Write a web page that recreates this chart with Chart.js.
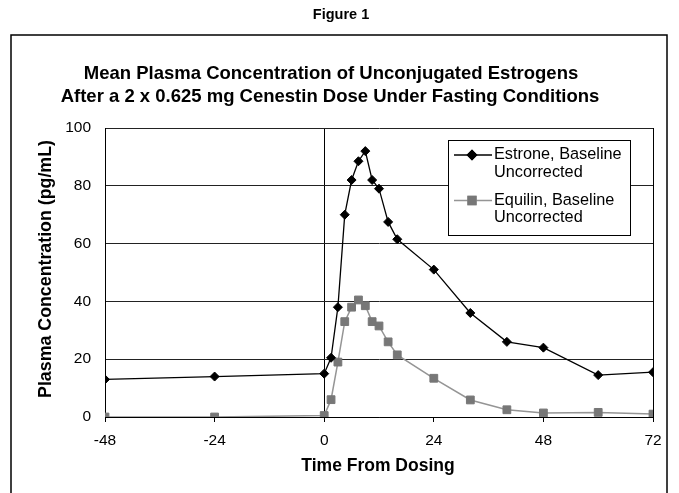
<!DOCTYPE html>
<html>
<head>
<meta charset="utf-8">
<script src="https://cdn.jsdelivr.net/npm/chart.js@4.4.1/dist/chart.umd.min.js"></script>
<style>
html,body{margin:0;padding:0;background:#fff;}
#wrap{width:679px;height:493px;position:relative;}
</style>
</head>
<body>
<div id="wrap"><canvas id="c"></canvas></div>
<script>
// ---- data ----
const timeHours = [-48, -24, 0, 1.5, 3, 4.5, 6, 7.5, 9, 10.5, 12, 14, 16, 24, 32, 40, 48, 60, 72];
const estrone   = [13, 14, 15, 20.5, 38, 70, 82, 88.5, 92, 82, 79, 67.5, 61.5, 51, 36, 26, 24, 14.5, 15.5];
const equilin   = [0, 0, 0.5, 6, 19, 33, 38, 40.5, 38.5, 33, 31.5, 26, 21.5, 13.4, 5.9, 2.5, 1.4, 1.6, 1.0];
const xTicks = [-48, -24, 0, 24, 48, 72];
const yTicks = [0, 20, 40, 60, 80, 100];
const estroneLabel = ['Estrone, Baseline', 'Uncorrected'];
const equilinLabel = ['Equilin, Baseline', 'Uncorrected'];
const figureLabel = 'Figure 1';
const titleLines = ['Mean Plasma Concentration of Unconjugated Estrogens',
                    'After a 2 x 0.625 mg Cenestin Dose Under Fasting Conditions'];
const xTitle = 'Time From Dosing';
const yTitle = 'Plasma Concentration (pg/mL)';

const FONT = '"Liberation Sans", Arial, Helvetica, sans-serif';

const toPoints = (xs, ys) => xs.map((x, i) => ({x: x, y: ys[i]}));

const decorPlugin = {
  id: 'decor',
  beforeDraw(chart) {
    const ctx = chart.ctx;
    ctx.save();
    ctx.fillStyle = '#fff';
    ctx.fillRect(0, 0, chart.width, chart.height);
    ctx.restore();
  },
  afterDraw(chart) {
    const ctx = chart.ctx;
    ctx.save();
    // outer frame
    ctx.strokeStyle = '#000';
    ctx.lineWidth = 1.5;
    ctx.strokeRect(11, 35, 656, 470);
    // texts
    ctx.fillStyle = '#000';
    ctx.textAlign = 'center';
    ctx.textBaseline = 'middle';
    ctx.font = 'bold 14.5px ' + FONT;
    ctx.fillText(figureLabel, 341, 15);
    ctx.font = 'bold 18.5px ' + FONT;
    ctx.fillText(titleLines[0], 331, 74);
    ctx.fillText(titleLines[1], 330, 97);
    ctx.font = 'bold 17.5px ' + FONT;
    ctx.fillText(xTitle, 378, 466);
    ctx.save();
    ctx.translate(46, 269);
    ctx.rotate(-Math.PI / 2);
    ctx.font = 'bold 17.8px ' + FONT;
    ctx.fillText(yTitle, 0, 0);
    ctx.restore();

    // legend
    const lx = 448.5, ly = 140.5, lw = 182, lh = 95;
    ctx.fillStyle = '#fff';
    ctx.fillRect(lx, ly, lw, lh);
    ctx.strokeStyle = '#000';
    ctx.lineWidth = 1;
    ctx.strokeRect(lx, ly, lw, lh);
    const entries = [
      {label: estroneLabel, ds: chart.data.datasets[0], y: 155},
      {label: equilinLabel, ds: chart.data.datasets[1], y: 200.5}
    ];
    ctx.font = '16.3px ' + FONT;
    ctx.textAlign = 'left';
    entries.forEach(e => {
      ctx.strokeStyle = e.ds.borderColor;
      ctx.lineWidth = e.ds.borderWidth;
      ctx.beginPath();
      ctx.moveTo(454, e.y);
      ctx.lineTo(492, e.y);
      ctx.stroke();
      Chart.helpers.drawPoint(ctx, {
        pointStyle: e.ds.pointStyle, radius: e.ds.pointRadius,
        borderWidth: 1, rotation: 0
      }, 472, e.y);
      ctx.fillStyle = e.ds.pointBackgroundColor;
      ctx.strokeStyle = e.ds.pointBorderColor;
      ctx.fill();
      ctx.stroke();
      ctx.fillStyle = '#000';
      ctx.fillText(e.label[0], 494, e.y);
      ctx.fillText(e.label[1], 494, e.y + 17.5);
    });
    ctx.restore();
  }
};

new Chart(document.getElementById('c'), {
  type: 'scatter',
  data: {
    datasets: [
      {
        label: estroneLabel.join(' '),
        data: toPoints(timeHours, estrone),
        showLine: true,
        borderColor: '#000',
        borderWidth: 1.3,
        pointStyle: 'rectRot',
        pointRadius: 4.5,
        pointBackgroundColor: '#000',
        pointBorderColor: '#000',
        pointBorderWidth: 1,
        tension: 0,
        order: 1
      },
      {
        label: equilinLabel.join(' '),
        data: toPoints(timeHours, equilin),
        showLine: true,
        borderColor: '#959595',
        borderWidth: 1.5,
        pointStyle: 'rect',
        pointRadius: 5.5,
        pointBackgroundColor: '#777',
        pointBorderColor: '#777',
        pointBorderWidth: 1,
        tension: 0,
        order: 2
      }
    ]
  },
  options: {
    responsive: true,
    maintainAspectRatio: false,
    animation: false,
    devicePixelRatio: 1,
    layout: {padding: {top: 128, right: 26, left: 0, bottom: 0}},
    plugins: {legend: {display: false}, tooltip: {enabled: false}, title: {display: false}},
    scales: {
      x: {
        type: 'linear',
        min: -48, max: 72,
        afterBuildTicks: s => { s.ticks = xTicks.map(v => ({value: v})); },
        afterFit: s => { s.height = 76; },
        grid: {
          color: c => (c.tick && (c.tick.value === 0 || c.tick.value === 72)) ? '#000' : 'rgba(0,0,0,0)',
          tickColor: '#000',
          tickLength: 5,
          lineWidth: 1
        },
        border: {display: true, color: '#000', width: 1},
        ticks: {color: '#000', font: {family: FONT, size: 15.5}, padding: 9, maxRotation: 0}
      },
      y: {
        min: 0, max: 100,
        afterBuildTicks: s => { s.ticks = yTicks.map(v => ({value: v})); },
        afterFit: s => { s.width = 105; },
        grid: {color: '#222', lineWidth: 1, drawTicks: false},
        border: {display: true, color: '#000', width: 1},
        ticks: {color: '#000', font: {family: FONT, size: 15.5}, padding: 14}
      }
    }
  },
  plugins: [decorPlugin]
});
</script>
</body>
</html>
